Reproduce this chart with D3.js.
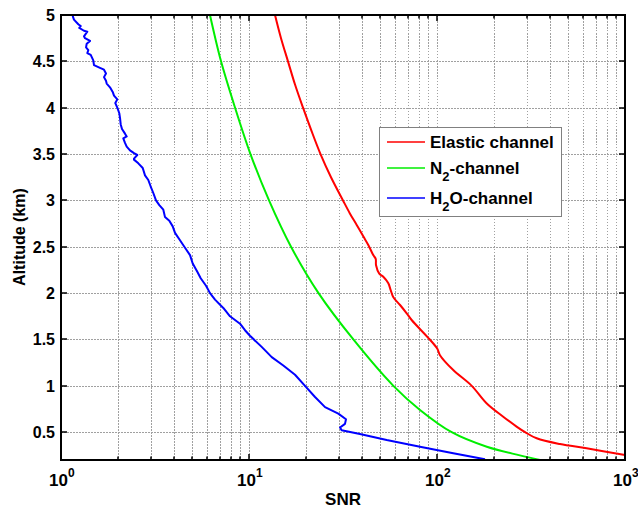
<!DOCTYPE html>
<html>
<head>
<meta charset="utf-8">
<script src="https://cdn.jsdelivr.net/npm/d3@7"></script>
<style>
  html, body { margin: 0; padding: 0; background: #fff; }
  svg { display: block; font-family: "Liberation Sans", Arial, sans-serif; }
</style>
</head>
<body>
<svg id="chart" width="638" height="508"></svg>
<script>
// SNR profiles versus altitude for three lidar channels: [SNR, altitude km]
const elastic = [
  [13.75, 5.0], [14.80, 4.75], [16.12, 4.5], [17.57, 4.25], [19.38, 4.0],
  [21.50, 3.75], [24.01, 3.5], [27.30, 3.25], [31.62, 3.0], [34.4, 2.86],
  [37.4, 2.735], [40.6, 2.61], [43.1, 2.52], [45.8, 2.41], [47.2, 2.37],
  [47.4, 2.30], [49.3, 2.21], [51.8, 2.177], [55.1, 2.106], [56.7, 2.033],
  [58.6, 1.955], [63.6, 1.872], [69.0, 1.782], [73.3, 1.71], [91, 1.505],
  [100.4, 1.40], [103.7, 1.33], [122, 1.17], [153, 1.0], [184, 0.81],
  [225, 0.667], [265, 0.56], [294, 0.50], [339, 0.434], [451, 0.372],
  [625, 0.326], [1000, 0.253]
];
const n2 = [
  [6.20, 5.0], [7.10, 4.5], [8.43, 4.0], [10.18, 3.5], [12.78, 3.0],
  [16.73, 2.5], [23.43, 2.0], [35.9, 1.5], [58.6, 1.0], [81.2, 0.74],
  [119.7, 0.5], [184, 0.343], [276, 0.25], [353, 0.2]
];
const h2o = [
  [1.154, 4.99], [1.172, 4.95], [1.236, 4.90], [1.273, 4.88], [1.251, 4.86],
  [1.325, 4.83], [1.380, 4.82], [1.325, 4.77], [1.342, 4.75], [1.427, 4.72],
  [1.370, 4.69], [1.359, 4.65], [1.397, 4.62], [1.380, 4.59], [1.439, 4.57],
  [1.485, 4.51], [1.498, 4.46], [1.612, 4.43], [1.693, 4.41], [1.735, 4.37],
  [1.693, 4.33], [1.735, 4.29], [1.750, 4.26], [1.822, 4.22], [1.884, 4.17],
  [1.914, 4.13], [1.993, 4.09], [1.945, 4.05], [1.993, 4.00], [2.042, 3.94],
  [2.060, 3.89], [2.078, 3.82], [2.111, 3.77], [2.190, 3.72], [2.236, 3.69],
  [2.145, 3.67], [2.190, 3.62], [2.236, 3.58], [2.328, 3.54], [2.445, 3.51],
  [2.546, 3.49], [2.445, 3.45], [2.445, 3.44], [2.578, 3.40], [2.721, 3.35],
  [2.798, 3.27], [2.913, 3.22], [3.000, 3.15], [3.097, 3.08], [3.201, 3.00],
  [3.334, 2.95], [3.501, 2.90], [3.575, 2.82], [3.769, 2.78], [3.928, 2.72],
  [4.041, 2.65], [4.295, 2.57], [4.567, 2.49], [4.856, 2.41], [5.019, 2.32],
  [5.309, 2.23], [5.535, 2.16], [5.907, 2.08], [6.204, 2.00], [6.595, 1.93],
  [7.300, 1.84], [7.925, 1.75], [8.956, 1.67], [9.52, 1.60], [10.12, 1.54],
  [11.68, 1.42], [13.21, 1.31], [15.22, 1.22], [17.57, 1.12], [19.86, 1.00],
  [22.45, 0.88], [25.38, 0.77], [29.85, 0.70], [32.8, 0.64], [32.4, 0.59],
  [30.5, 0.55], [31.1, 0.52], [38.9, 0.48], [54.0, 0.415], [81.2, 0.343],
  [122, 0.272], [180, 0.207]
];

const xDomain = [1, 1000];
const yDomain = [0.2, 5];
const yTicks = [0.5, 1, 1.5, 2, 2.5, 3, 3.5, 4, 4.5, 5];
const xMajor = [1, 10, 100, 1000];
const xMinor = [2, 3, 4, 5, 6, 7, 8, 9, 20, 30, 40, 50, 60, 70, 80, 90,
                200, 300, 400, 500, 600, 700, 800, 900];

const series = [
  { name: "Elastic channel", color: "#ff0000", data: elastic, curve: d3.curveCatmullRom },
  { name: "N2-channel", color: "#00ee00", data: n2, curve: d3.curveCatmullRom },
  { name: "H2O-channel", color: "#0000ff", data: h2o, curve: d3.curveLinear }
];

const frame = { left: 61, right: 625, top: 15, bottom: 460 };
const svg = d3.select("#chart");
const x = d3.scaleLog().domain(xDomain).range([frame.left, frame.right]);
const y = d3.scaleLinear().domain(yDomain).range([frame.bottom, frame.top]);

// grid
const grid = svg.append("g")
  .attr("stroke", "#a0a0a0").attr("stroke-width", 1)
  .attr("stroke-dasharray", "1.5,1.5").attr("shape-rendering", "crispEdges");
grid.selectAll("line.gx").data(xMajor.slice(1, -1).concat(xMinor)).join("line")
  .attr("x1", d => Math.round(x(d)) + 0.5).attr("x2", d => Math.round(x(d)) + 0.5)
  .attr("y1", frame.top).attr("y2", frame.bottom);
grid.selectAll("line.gy").data(yTicks.slice(0, -1)).join("line")
  .attr("x1", frame.left).attr("x2", frame.right)
  .attr("y1", d => Math.round(y(d)) + 0.5).attr("y2", d => Math.round(y(d)) + 0.5);

// curves
const plot = svg.append("g");
series.forEach(s => {
  const line = d3.line().x(d => x(d[0])).y(d => y(d[1])).curve(s.curve);
  plot.append("path").datum(s.data)
    .attr("fill", "none").attr("stroke", s.color).attr("stroke-width", 2)
    .attr("stroke-linejoin", "round").attr("d", line);
});

// inward ticks on all four sides
const ticks = svg.append("g").attr("stroke", "#000").attr("stroke-width", 1.5);
xMajor.concat(xMinor).forEach(v => {
  const len = xMajor.includes(v) ? 6 : 3.5;
  const px = Math.round(x(v));
  ticks.append("line").attr("x1", px).attr("x2", px).attr("y1", frame.bottom).attr("y2", frame.bottom - len);
  ticks.append("line").attr("x1", px).attr("x2", px).attr("y1", frame.top).attr("y2", frame.top + len);
});
yTicks.forEach(v => {
  const py = Math.round(y(v));
  ticks.append("line").attr("x1", frame.left).attr("x2", frame.left + 6).attr("y1", py).attr("y2", py);
  ticks.append("line").attr("x1", frame.right).attr("x2", frame.right - 6).attr("y1", py).attr("y2", py);
});

// frame
svg.append("rect").attr("x", frame.left).attr("y", frame.top)
  .attr("width", frame.right - frame.left).attr("height", frame.bottom - frame.top)
  .attr("fill", "none").attr("stroke", "#000").attr("stroke-width", 2);

// y tick labels
svg.append("g").selectAll("text").data(yTicks).join("text")
  .attr("x", frame.left - 6).attr("y", d => y(d) + 6)
  .attr("text-anchor", "end").attr("font-size", 16).attr("font-weight", "bold")
  .text(d => d);

// x tick labels as 10^n
const xl = svg.append("g").attr("font-weight", "bold");
xMajor.forEach(v => {
  const t = xl.append("text").attr("x", x(v) - 12).attr("y", 486)
    .attr("text-anchor", "start").attr("font-size", 17);
  t.append("tspan").text("10");
  t.append("tspan").attr("dy", -9).attr("font-size", 12).text(Math.round(Math.log10(v)));
});

// axis titles
svg.append("text").attr("x", 343).attr("y", 505).attr("text-anchor", "middle")
  .attr("font-size", 17).attr("font-weight", "bold").text("SNR");
svg.append("text").attr("transform", "translate(25,237) rotate(-90)")
  .attr("text-anchor", "middle").attr("font-size", 16).attr("font-weight", "bold")
  .text("Altitude (km)");

// legend
const lg = svg.append("g");
lg.append("rect").attr("x", 379.5).attr("y", 127.5).attr("width", 182).attr("height", 89)
  .attr("fill", "#fff").attr("stroke", "#808080").attr("stroke-width", 1);
const rows = [142, 168, 198];
series.forEach((s, i) => {
  lg.append("line").attr("x1", 387).attr("x2", 425).attr("y1", rows[i]).attr("y2", rows[i])
    .attr("stroke", s.color).attr("stroke-width", 1.5);
  const t = lg.append("text").attr("x", 430).attr("y", rows[i] + 6)
    .attr("font-size", 17).attr("font-weight", "bold");
  if (i === 0) {
    t.text("Elastic channel");
  } else if (i === 1) {
    t.append("tspan").text("N");
    t.append("tspan").attr("dy", 7).attr("font-size", 13).text("2");
    t.append("tspan").attr("dy", -7).text("-channel");
  } else {
    t.append("tspan").text("H");
    t.append("tspan").attr("dy", 7).attr("font-size", 13).text("2");
    t.append("tspan").attr("dy", -7).text("O-channel");
  }
});
</script>
</body>
</html>
